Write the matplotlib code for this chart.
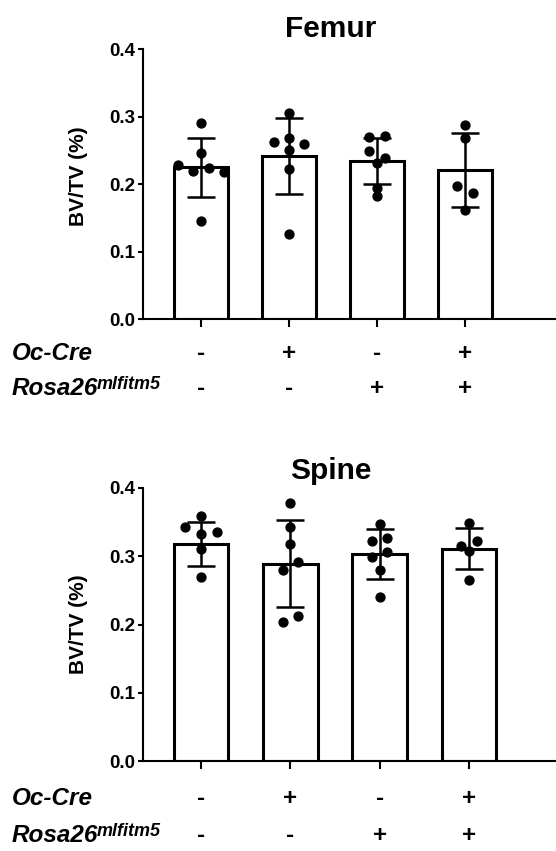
import numpy as np
import matplotlib.pyplot as plt
from matplotlib import transforms

plt.rcParams['font.family'] = ['Liberation Sans', 'DejaVu Sans']
plt.rcParams['font.weight'] = 'bold'

# genotype groups (one bar each)
groups_x = np.arange(4)
oc_cre = ['-', '+', '-', '+']
rosa26 = ['-', '-', '+', '+']

# Femur BV/TV: mean, SD and single animals
femur_mean = [0.225, 0.242, 0.234, 0.221]
femur_sd = [0.0435, 0.0565, 0.034, 0.055]
femur_points = [
    [0.291, 0.246, 0.228, 0.220, 0.224, 0.218, 0.145],
    [0.305, 0.262, 0.269, 0.259, 0.250, 0.222, 0.126],
    [0.270, 0.271, 0.249, 0.239, 0.232, 0.194, 0.182],
    [0.288, 0.269, 0.197, 0.187, 0.162],
]

# Spine BV/TV
spine_mean = [0.318, 0.289, 0.303, 0.311]
spine_sd = [0.0325, 0.0635, 0.036, 0.030]
spine_points = [
    [0.359, 0.342, 0.332, 0.335, 0.311, 0.269],
    [0.377, 0.342, 0.318, 0.280, 0.291, 0.203, 0.212],
    [0.347, 0.3225, 0.327, 0.298, 0.306, 0.279, 0.240],
    [0.348, 0.315, 0.322, 0.308, 0.265],
]

yticks = [0.0, 0.1, 0.2, 0.3, 0.4]


def swarm_offsets(values, step, tol):
    # points with close values share a row, rows are centred on the bar
    order = sorted(range(len(values)), key=lambda i: -values[i])
    rows = []
    for i in order:
        if rows and values[rows[-1][0]] - values[i] < tol:
            rows[-1].append(i)
        else:
            rows.append([i])
    offs = np.zeros(len(values))
    for row in rows:
        row = sorted(row)
        n = len(row)
        for k, i in enumerate(row):
            offs[i] = (k - (n - 1) / 2) * step
    return offs


def draw_panel(ax, title, means, sds, points, xlim, title_pad, label_y, row_y):
    ax.bar(groups_x, means, width=0.61, color='white', edgecolor='black',
           linewidth=2.2, zorder=1)
    ax.errorbar(groups_x, means, yerr=sds, fmt='none', ecolor='black',
                elinewidth=1.8, capsize=10, capthick=1.8, zorder=2)
    for x, vals in zip(groups_x, points):
        offs = swarm_offsets(vals, 0.175, 0.0115)
        ax.plot(x + offs, vals, 'o', color='black', markersize=6.4,
                zorder=3, clip_on=False)

    ax.set_xlim(xlim)
    ax.set_ylim(0, 0.4)
    ax.set_yticks(yticks)
    ax.set_yticklabels([f'{v:.1f}' for v in yticks])
    ax.set_xticks(groups_x)
    ax.set_xticklabels([])
    for s in ['top', 'right']:
        ax.spines[s].set_visible(False)
    for s in ['left', 'bottom']:
        ax.spines[s].set_linewidth(1.5)
    ax.tick_params(axis='y', length=3.6, width=1.5, labelsize=13.5, pad=2)
    ax.tick_params(axis='x', length=5.5, width=1.5)

    ax.set_title(title, x=0.455, fontsize=21.5, fontweight='bold', pad=title_pad)
    ax.set_ylabel('BV/TV (%)', fontsize=15, fontweight='bold')
    ax.yaxis.set_label_coords(-0.132, label_y)

    # genotype table under the axis
    fig = ax.figure
    lab_tr = transforms.blended_transform_factory(fig.transFigure, ax.transAxes)
    sym_tr = ax.get_xaxis_transform()
    ax.text(0.0216, row_y[0], 'Oc-Cre', transform=lab_tr, fontsize=17.5,
            style='italic', fontweight='bold', va='baseline', ha='left')
    rosa = ax.text(0.0216, row_y[1], 'Rosa26', transform=lab_tr, fontsize=17.5,
                   style='italic', fontweight='bold', va='baseline', ha='left')
    ax.annotate('mlfitm5', xy=(1, 0), xycoords=rosa, xytext=(-1, 8),
                textcoords='offset points', fontsize=13, style='italic',
                fontweight='bold', va='baseline', ha='left')
    for x, a, b in zip(groups_x, oc_cre, rosa26):
        ax.text(x, row_y[0], a, transform=sym_tr, fontsize=17.5,
                fontweight='bold', ha='center', va='baseline')
        ax.text(x, row_y[1], b, transform=sym_tr, fontsize=17.5,
                fontweight='bold', ha='center', va='baseline')


fig = plt.figure(figsize=(5.56, 8.51), dpi=100)
ax1 = fig.add_axes([0.2572, 0.6251, 0.7428, 0.3169])
ax2 = fig.add_axes([0.2572, 0.1054, 0.7428, 0.3215])

draw_panel(ax1, 'Femur', femur_mean, femur_sd, femur_points,
           (-0.659, 4.034), 9, 0.53, (-0.152, -0.282))
draw_panel(ax2, 'Spine', spine_mean, spine_sd, spine_points,
           (-0.65, 3.975), 6, 0.50, (-0.160, -0.295))

fig.savefig('out.png', dpi=100)
